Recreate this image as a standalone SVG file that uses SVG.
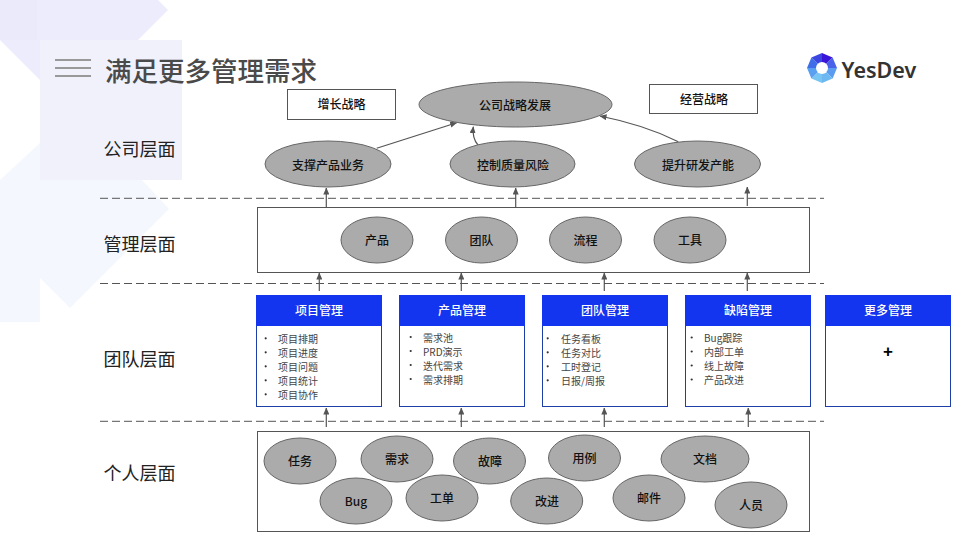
<svg xmlns="http://www.w3.org/2000/svg" width="960" height="540" viewBox="0 0 960 540">
<style>
text{font-family:"Noto Sans CJK SC","Liberation Sans",sans-serif;fill:#111}
.e{fill:#ababab;stroke:#666;stroke-width:1}
.l{font-size:12px;font-weight:500;text-anchor:middle;dominant-baseline:central;transform:translateY(-1px)}
.lev{font-size:18px;dominant-baseline:central;fill:#222;transform:translateY(-2px)}
.box{fill:#fff;stroke:#555;stroke-width:1}
.card{fill:#fff;stroke:#1e3fa8;stroke-width:1}
.hd{fill:#1435f0}
.ht{font-size:12px;font-weight:500;text-anchor:middle;dominant-baseline:central;fill:#fff;transform:translateY(-1px)}
.li{font-size:10px;fill:#444;dominant-baseline:central;transform:translateY(-0.5px)}
.dash{stroke:#555;stroke-width:1;stroke-dasharray:8 4;fill:none}
.c{stroke:#555;stroke-width:1.2;fill:none;marker-end:url(#a)}
.b{fill:#333}
</style>
<defs>
<marker id="a" viewBox="0 0 7 6" refX="6.500" refY="3" markerWidth="7" markerHeight="6" markerUnits="userSpaceOnUse" orient="auto"><path d="M0 0L7 3L0 6Z" fill="#555"/></marker>
</defs>
<rect width="960" height="540" fill="#fff"/>
<g id="background">
<polygon points="0,180 40,143 40,322 0,322" fill="#f4f8fe"/>
<polygon points="40,180 142,180 169,209 70,308 40,278" fill="#f5f7fe"/>
<rect x="40" y="40" width="142" height="140" fill="#f1f1fc"/>
<polygon points="0,0 158,0 168,10 138,40 40,40 40,80 0,40" fill="#edecfc"/>
<rect x="0" y="0" width="37" height="40" fill="#ebeafb"/>
</g>
<g id="title">
<path d="M55 60H91M55 68H91M55 76H91" stroke="#999" stroke-width="2" fill="none"/>
<text x="105" y="69" font-size="26.500" font-weight="500" dominant-baseline="central" style="fill:#4a4a4a">满足更多管理需求</text>
</g>
<g id="logo">
<path d="M822 68L822 53L832.600 57.400Z" fill="#3a16d8"/>
<path d="M822 68L832.600 57.400L837 68Z" fill="#4a62ea"/>
<path d="M822 68L837 68L832.600 78.600Z" fill="#5b9cf0"/>
<path d="M822 68L832.600 78.600L822 83Z" fill="#6db8f0"/>
<path d="M822 68L822 83L811.400 78.600Z" fill="#78c4f2"/>
<path d="M822 68L811.400 78.600L807 68Z" fill="#5aa0f0"/>
<path d="M822 68L807 68L811.400 57.400Z" fill="#3f6ee8"/>
<path d="M822 68L811.400 57.400L822 53Z" fill="#3b47e0"/>
<circle cx="822" cy="68" r="6" fill="#fff"/>
<text x="841.500" y="69" font-size="21.500" font-weight="600" dominant-baseline="central" style="font-family:'Noto Sans','Liberation Sans',sans-serif;fill:#333">YesDev</text>
</g>
<g id="level-labels">
<text class="lev" x="103.500" y="150">公司层面</text>
<text class="lev" x="103.500" y="245">管理层面</text>
<text class="lev" x="103.500" y="360">团队层面</text>
<text class="lev" x="103.500" y="474">个人层面</text>
</g>
<g id="separators">
<path class="dash" d="M100 198.300H824"/>
<path class="dash" d="M100 283.500H824"/>
<path class="dash" d="M100 421.300H824"/>
</g>
<g id="boxes-back">
<rect id="management-box" class="box" x="257.500" y="207.500" width="552" height="65"/>
<rect id="personal-box" class="box" x="257.500" y="431.500" width="552" height="100"/>
</g>
<g id="connectors">
<path class="c" d="M376.700 148.300L456.700 122.700"/>
<path class="c" d="M478 145Q472 138 473.300 126.700"/>
<path class="c" d="M678.300 141.700Q645 125 600 116"/>
<path class="c" d="M326.300 207.500V188"/>
<path class="c" d="M515.700 207.500V188"/>
<path class="c" d="M747.300 206V187"/>
<path class="c" d="M319.300 291V273"/>
<path class="c" d="M461.300 291V273"/>
<path class="c" d="M604.300 291V273"/>
<path class="c" d="M747.300 291V273"/>
<path class="c" d="M326.300 427V408"/>
<path class="c" d="M461.300 427V408"/>
<path class="c" d="M604.300 427V408"/>
<path class="c" d="M748.300 427V408"/>
</g>
<g id="growth"><rect class="box" x="287.500" y="89.500" width="108" height="30"/><text class="l" x="341.500" y="104">增长战略</text></g>
<g id="operation"><rect class="box" x="649.500" y="84.500" width="108" height="29"/><text class="l" x="704" y="99">经营战略</text></g>
<g id="company"><ellipse class="e" cx="515.500" cy="104.500" rx="96.500" ry="22.500"/><text class="l" x="515" y="105">公司战略发展</text></g>
<g id="support"><ellipse class="e" cx="328" cy="164" rx="63" ry="23"/><text class="l" x="328" y="165">支撑产品业务</text></g>
<g id="quality"><ellipse class="e" cx="512.500" cy="164" rx="62.500" ry="23"/><text class="l" x="513" y="165">控制质量风险</text></g>
<g id="capacity"><ellipse class="e" cx="697.500" cy="164" rx="63" ry="23"/><text class="l" x="698" y="165">提升研发产能</text></g>
<g id="m-product"><ellipse class="e" cx="377" cy="240" rx="36" ry="23"/><text class="l" x="377" y="240">产品</text></g>
<g id="m-team"><ellipse class="e" cx="481.500" cy="240" rx="36" ry="23"/><text class="l" x="481.500" y="240">团队</text></g>
<g id="m-process"><ellipse class="e" cx="585.500" cy="240" rx="36" ry="23"/><text class="l" x="585.500" y="240">流程</text></g>
<g id="m-tool"><ellipse class="e" cx="690" cy="240" rx="36" ry="23"/><text class="l" x="690" y="240">工具</text></g>
<g id="card-project">
<rect class="card" x="256.500" y="295.500" width="125" height="111"/><rect class="hd" x="256" y="295" width="126" height="31"/>
<text class="ht" x="319" y="310">项目管理</text>
<circle class="b" cx="265.700" cy="338.300" r="1.100"/><circle class="b" cx="265.700" cy="352.300" r="1.100"/><circle class="b" cx="265.700" cy="366.300" r="1.100"/><circle class="b" cx="265.700" cy="380.300" r="1.100"/><circle class="b" cx="265.700" cy="394.300" r="1.100"/>
<text class="li" x="278" y="338.500">项目排期</text><text class="li" x="278" y="352.500">项目进度</text><text class="li" x="278" y="366.500">项目问题</text><text class="li" x="278" y="380.500">项目统计</text><text class="li" x="278" y="394.500">项目协作</text>
</g>
<g id="card-product">
<rect class="card" x="399.500" y="295.500" width="125" height="111"/><rect class="hd" x="399" y="295" width="126" height="31"/>
<text class="ht" x="462" y="310">产品管理</text>
<circle class="b" cx="410.700" cy="337" r="1.100"/><circle class="b" cx="410.700" cy="351" r="1.100"/><circle class="b" cx="410.700" cy="365" r="1.100"/><circle class="b" cx="410.700" cy="379" r="1.100"/>
<text class="li" x="423" y="337.500">需求池</text><text class="li" x="423" y="351.500">PRD演示</text><text class="li" x="423" y="365.500">迭代需求</text><text class="li" x="423" y="379.500">需求排期</text>
</g>
<g id="card-team">
<rect class="card" x="542.500" y="295.500" width="125" height="111"/><rect class="hd" x="542" y="295" width="126" height="31"/>
<text class="ht" x="605" y="310">团队管理</text>
<circle class="b" cx="547.700" cy="338.300" r="1.100"/><circle class="b" cx="547.700" cy="352.300" r="1.100"/><circle class="b" cx="547.700" cy="366.300" r="1.100"/><circle class="b" cx="547.700" cy="380.300" r="1.100"/>
<text class="li" x="561" y="338.500">任务看板</text><text class="li" x="561" y="352.500">任务对比</text><text class="li" x="561" y="366.500">工时登记</text><text class="li" x="561" y="380.500">日报/周报</text>
</g>
<g id="card-defect">
<rect class="card" x="685.500" y="295.500" width="125" height="111"/><rect class="hd" x="685" y="295" width="126" height="31"/>
<text class="ht" x="748" y="310">缺陷管理</text>
<circle class="b" cx="691.700" cy="337.500" r="1.100"/><circle class="b" cx="691.700" cy="351.500" r="1.100"/><circle class="b" cx="691.700" cy="365.500" r="1.100"/><circle class="b" cx="691.700" cy="379.500" r="1.100"/>
<text class="li" x="704" y="337.500">Bug跟踪</text><text class="li" x="704" y="351.500">内部工单</text><text class="li" x="704" y="365.500">线上故障</text><text class="li" x="704" y="379.500">产品改进</text>
</g>
<g id="card-more">
<rect class="card" x="825.500" y="295.500" width="125" height="111"/><rect class="hd" x="825" y="295" width="126" height="31"/>
<text class="ht" x="888" y="310">更多管理</text>
<text x="888" y="351" font-size="17" font-weight="700" text-anchor="middle" dominant-baseline="central" style="font-family:'Liberation Sans',sans-serif;fill:#000">+</text>
</g>
<g id="p-task"><ellipse class="e" cx="300" cy="461" rx="36" ry="23"/><text class="l" x="300" y="461">任务</text></g>
<g id="p-req"><ellipse class="e" cx="397" cy="459" rx="36" ry="23"/><text class="l" x="397" y="459">需求</text></g>
<g id="p-fault"><ellipse class="e" cx="489.500" cy="461" rx="36" ry="23"/><text class="l" x="490" y="461">故障</text></g>
<g id="p-bug"><ellipse class="e" cx="356" cy="501" rx="36" ry="23"/><text class="l" x="356" y="501">Bug</text></g>
<g id="p-ticket"><ellipse class="e" cx="442" cy="498" rx="36" ry="23"/><text class="l" x="442" y="498">工单</text></g>
<g id="p-improve"><ellipse class="e" cx="546.700" cy="501" rx="36" ry="23"/><text class="l" x="547" y="501">改进</text></g>
<g id="p-case"><ellipse class="e" cx="584.500" cy="458" rx="36" ry="23"/><text class="l" x="584.500" y="458">用例</text></g>
<g id="p-doc"><ellipse class="e" cx="705" cy="459" rx="44" ry="23"/><text class="l" x="705" y="459">文档</text></g>
<g id="p-mail"><ellipse class="e" cx="649" cy="498" rx="36" ry="23"/><text class="l" x="649" y="498">邮件</text></g>
<g id="p-people"><ellipse class="e" cx="751" cy="505" rx="36" ry="23"/><text class="l" x="751" y="505">人员</text></g>
</svg>
